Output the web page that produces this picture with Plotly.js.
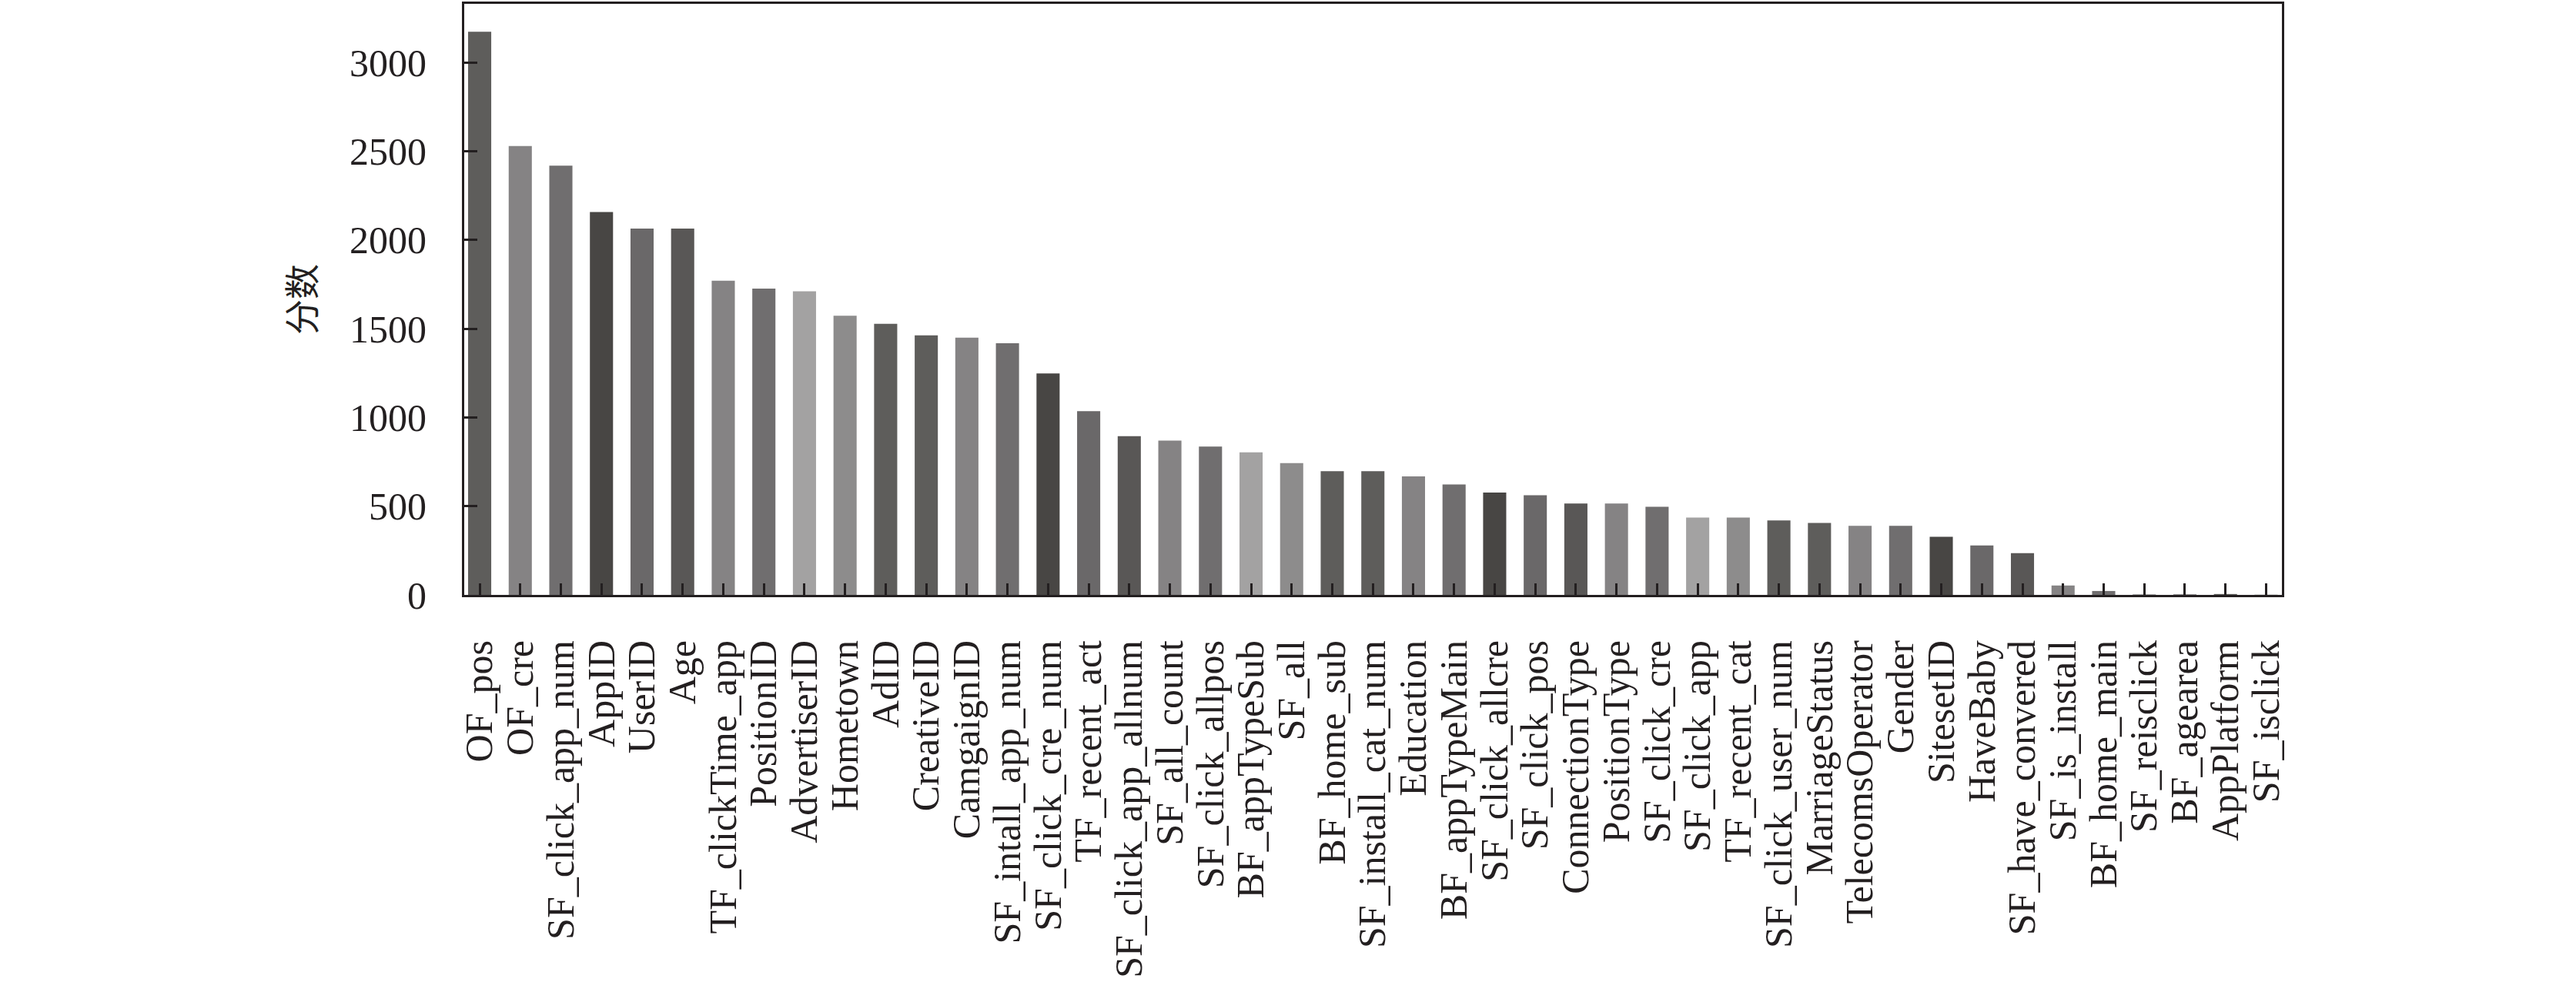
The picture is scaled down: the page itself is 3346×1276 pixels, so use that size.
<!DOCTYPE html>
<html>
<head>
<meta charset="utf-8">
<script src="https://cdn.plot.ly/plotly-3.0.1.min.js"></script>
<style>html,body{margin:0;padding:0;background:#fff;}</style>
</head>
<body>
<div id="chart" style="width:3346px;height:1276px;"></div>
<script>
const features = ["OF_pos","OF_cre","SF_click_app_num","AppID","UserID","Age","TF_clickTime_app","PositionID","AdvertiserID","Hometown","AdID","CreativeID","CamgaignID","SF_intall_app_num","SF_click_cre_num","TF_recent_act","SF_click_app_allnum","SF_all_count","SF_click_allpos","BF_appTypeSub","SF_all","BF_home_sub","SF_install_cat_num","Education","BF_appTypeMain","SF_click_allcre","SF_click_pos","ConnectionType","PositionType","SF_click_cre","SF_click_app","TF_recent_cat","SF_click_user_num","MarriageStatus","TelecomsOperator","Gender","SitesetID","HaveBaby","SF_have_convered","SF_is_install","BF_home_main","SF_reisclick","BF_agearea","AppPlatform","SF_isclick"];
const scores = [3173,2529,2418,2157,2064,2064,1770,1726,1710,1573,1527,1462,1449,1418,1248,1035,894,869,836,803,743,697,697,668,622,577,562,515,515,496,436,436,420,405,389,389,327,279,235,53,22,4,4,5,1];
const yTicks = [0,500,1000,1500,2000,2500,3000];
const palette = ["#5e5d5b","#858384","#706e6f","#484644","#6a6869","#595756","#858384","#706e6f","#a3a2a2","#8d8c8c","#5e5d5b"];
const barColors = features.map((f,i)=>palette[i%palette.length]);

const font = {family:"'Times New Roman','Liberation Serif',serif", size:50, color:"#231f20"};

Plotly.newPlot("chart",[{
  type:"bar",
  x:features,
  y:scores,
  width:0.57,
  marker:{color:barColors, line:{width:0}},
  hoverinfo:"x+y"
}],{
  width:3346,height:1276,
  margin:{l:603,r:382,t:5,b:503,pad:0},
  paper_bgcolor:"#fff",plot_bgcolor:"#fff",
  showlegend:false,
  font:font,
  xaxis:{
    type:"category",
    range:[-0.38,44.39],
    tickmode:"array",
    tickvals:features,
    ticktext:features,
    tickangle:-90,
    ticks:"inside",ticklen:15,tickwidth:3,tickcolor:"#231f20",
    showline:true,linewidth:3,linecolor:"#231f20",mirror:true,
    showgrid:false,zeroline:false,
    tickfont:font,
    ticklabelstandoff:36,
    automargin:false
  },
  yaxis:{
    range:[0,3330],
    tickvals:yTicks,
    ticktext:yTicks.map(String),
    ticks:"inside",ticklen:17,tickwidth:3,tickcolor:"#231f20",
    showline:true,linewidth:3,linecolor:"#231f20",mirror:true,
    showgrid:false,zeroline:false,
    tickfont:font,
    ticklabelstandoff:36,
    automargin:false,
    title:{text:"分数",font:{family:"'Noto Sans CJK SC',sans-serif",size:46,color:"#231f20"},standoff:30}
  }
},{displayModeBar:false,staticPlot:true});
</script>
</body>
</html>
